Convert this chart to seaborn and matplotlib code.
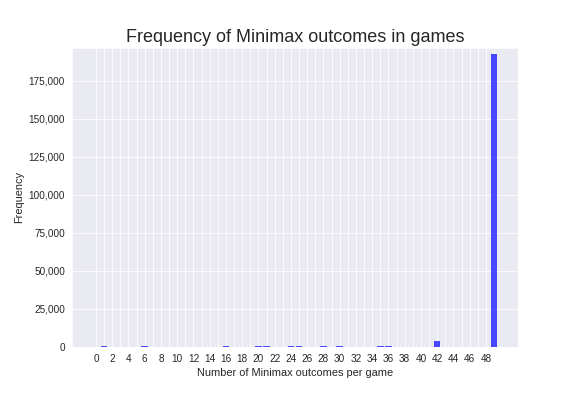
import matplotlib
matplotlib.use("Agg")
import matplotlib.pyplot as plt
import matplotlib.ticker as mticker
import seaborn as sns

sns.set_style("darkgrid", {'grid.linewidth': 1.5})
plt.rcParams['font.family'] = ['Liberation Sans', 'DejaVu Sans']

# number of minimax outcomes per game -> how many games
outcomes = [1, 6, 16, 20, 21, 24, 25, 28, 30, 35, 36, 42, 49]
frequency = [800, 800, 800, 800, 800, 800, 800, 800, 800, 800, 800, 4000, 192500]
tick_values = list(range(0, 50))
tick_labels = [str(v) if v % 2 == 0 else '' for v in tick_values]

fig, ax = plt.subplots(figsize=(8, 5.5), dpi=72)
fig.subplots_adjust(left=0.125, right=0.9, bottom=0.124, top=0.879)

ax.bar(outcomes, frequency, width=0.82, color='blue', alpha=0.7, linewidth=0)

ax.set_xticks(tick_values)
ax.set_xticklabels(tick_labels, fontsize=10)
ax.tick_params(axis='y', labelsize=10)
ax.set_xlim(-2.95, 52)
ax.set_ylim(0, 196700)
ax.yaxis.set_major_formatter(mticker.FuncFormatter(lambda v, p: '{:,.0f}'.format(v)))

ax.set_title('Frequency of Minimax outcomes in games', fontsize=18)
ax.set_xlabel('Number of Minimax outcomes per game', fontsize=11)
ax.set_ylabel('Frequency', fontsize=11)

plt.savefig('out.png', dpi=72)
